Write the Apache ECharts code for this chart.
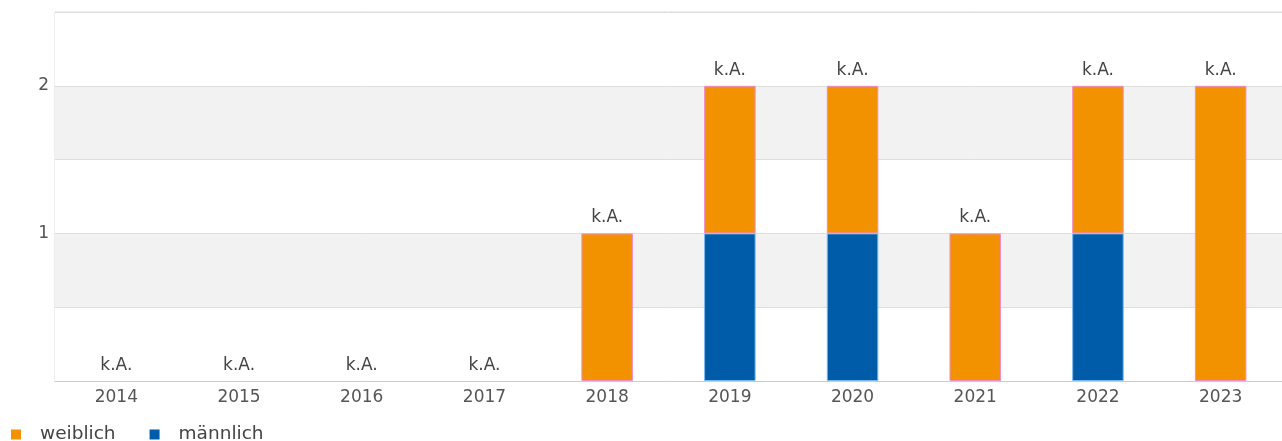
<!DOCTYPE html>
<html>
<head>
<meta charset="utf-8">
<script src="https://cdn.jsdelivr.net/npm/echarts@6/dist/echarts.min.js"></script>
<style>
  html, body { margin: 0; padding: 0; background: #fff; }
  #chart { width: 1282px; height: 441px; }
</style>
</head>
<body>
<div id="chart"></div>
<script>
  var years = ['2014', '2015', '2016', '2017', '2018', '2019', '2020', '2021', '2022', '2023']
  var maennlich = [0, 0, 0, 0, 0, 1, 1, 0, 1, 0]
  var weiblich = [0, 0, 0, 0, 1, 1, 1, 1, 1, 2]
  var topLabel = 'k.A.'
  var yTicks = [1, 2]

  var chart = echarts.init(document.getElementById('chart'))
  var font = '"DejaVu Sans", sans-serif'

  // zero values drawn as empty, so no border stubs appear on the axis
  function noZero(arr) {
    return arr.map(function (v) { return v === 0 ? '-' : v })
  }

  chart.setOption({
    animation: false,
    textStyle: { fontFamily: font },
    grid: { left: 55, right: -2, top: 12, bottom: 60, show: true, borderColor: '#dcdcdc', borderWidth: 1 },
    legend: {
      left: 6,
      top: 420,
      icon: 'rect',
      itemWidth: 10,
      itemHeight: 10,
      itemGap: 34,
      itemStyle: { borderWidth: 0 },
      textStyle: { color: '#444', fontSize: 18.5, fontFamily: font, padding: [0, 0, 0, 14] },
      data: ['weiblich', 'männlich']
    },
    xAxis: {
      type: 'category',
      data: years,
      axisLine: { lineStyle: { color: '#cccccc' } },
      axisTick: { show: false },
      axisLabel: { color: '#555', fontSize: 17, fontFamily: font, margin: 8 }
    },
    yAxis: {
      type: 'value',
      min: 0,
      max: 2.5,
      interval: 0.5,
      axisLine: { show: false },
      axisTick: { show: false },
      axisLabel: {
        color: '#555',
        fontSize: 17,
        fontFamily: font,
        margin: 6,
        formatter: function (v) { return yTicks.indexOf(v) >= 0 ? String(v) : '' }
      },
      splitLine: { lineStyle: { color: '#dedede' } },
      splitArea: { show: true, areaStyle: { color: ['#ffffff', '#f2f2f2'] } }
    },
    series: [
      {
        name: 'männlich',
        type: 'bar',
        stack: 'total',
        barWidth: '42%',
        data: noZero(maennlich),
        itemStyle: { color: '#005ca9', borderColor: '#7ab8f0', borderWidth: 1 }
      },
      {
        name: 'weiblich',
        type: 'bar',
        stack: 'total',
        data: noZero(weiblich),
        itemStyle: { color: '#f39200', borderColor: '#f08cc8', borderWidth: 1 }
      },
      {
        name: 'label',
        type: 'bar',
        stack: 'total',
        data: years.map(function () { return 0 }),
        itemStyle: { color: 'transparent', borderWidth: 0 },
        label: {
          show: true,
          position: 'top',
          distance: 7,
          color: '#444',
          fontSize: 17,
          fontFamily: font,
          formatter: function () { return topLabel }
        }
      }
    ]
  })
</script>
</body>
</html>
